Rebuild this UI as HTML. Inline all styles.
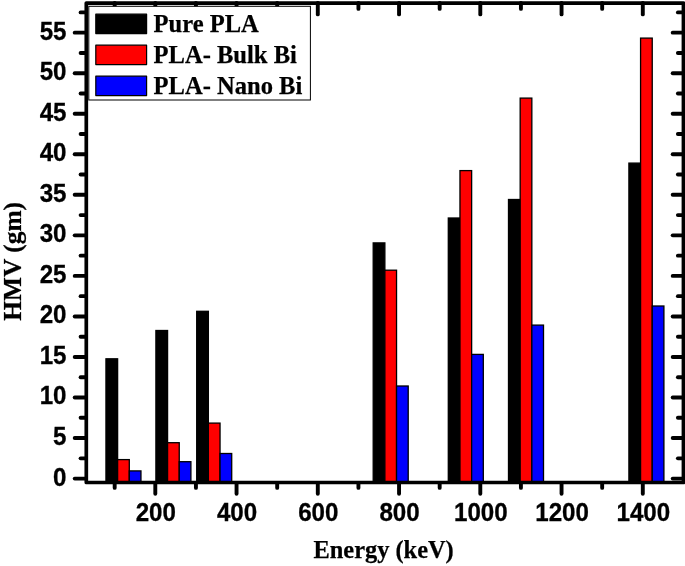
<!DOCTYPE html>
<html><head><meta charset="utf-8"><title>HMV vs Energy</title>
<style>html,body{margin:0;padding:0;background:#fff;}svg{display:block;will-change:transform;}</style>
</head><body>
<svg width="685" height="566" viewBox="0 0 685 566">
<rect x="0" y="0" width="685" height="566" fill="#fff"/>
<g stroke="#000" stroke-width="3.9" stroke-linecap="round">
<line x1="114.68" y1="483" x2="114.68" y2="487.9"/>
<line x1="114.68" y1="3" x2="114.68" y2="8.9"/>
<line x1="155.30" y1="483" x2="155.30" y2="493.8"/>
<line x1="155.30" y1="3" x2="155.30" y2="14.4"/>
<line x1="195.93" y1="483" x2="195.93" y2="487.9"/>
<line x1="195.93" y1="3" x2="195.93" y2="8.9"/>
<line x1="236.55" y1="483" x2="236.55" y2="493.8"/>
<line x1="236.55" y1="3" x2="236.55" y2="14.4"/>
<line x1="277.18" y1="483" x2="277.18" y2="487.9"/>
<line x1="277.18" y1="3" x2="277.18" y2="8.9"/>
<line x1="317.80" y1="483" x2="317.80" y2="493.8"/>
<line x1="317.80" y1="3" x2="317.80" y2="14.4"/>
<line x1="358.43" y1="483" x2="358.43" y2="487.9"/>
<line x1="358.43" y1="3" x2="358.43" y2="8.9"/>
<line x1="399.05" y1="483" x2="399.05" y2="493.8"/>
<line x1="399.05" y1="3" x2="399.05" y2="14.4"/>
<line x1="439.68" y1="483" x2="439.68" y2="487.9"/>
<line x1="439.68" y1="3" x2="439.68" y2="8.9"/>
<line x1="480.30" y1="483" x2="480.30" y2="493.8"/>
<line x1="480.30" y1="3" x2="480.30" y2="14.4"/>
<line x1="520.92" y1="483" x2="520.92" y2="487.9"/>
<line x1="520.92" y1="3" x2="520.92" y2="8.9"/>
<line x1="561.55" y1="483" x2="561.55" y2="493.8"/>
<line x1="561.55" y1="3" x2="561.55" y2="14.4"/>
<line x1="602.17" y1="483" x2="602.17" y2="487.9"/>
<line x1="602.17" y1="3" x2="602.17" y2="8.9"/>
<line x1="642.80" y1="483" x2="642.80" y2="493.8"/>
<line x1="642.80" y1="3" x2="642.80" y2="14.4"/>
<line x1="74.7" y1="478.60" x2="86" y2="478.60"/>
<line x1="672.7" y1="478.60" x2="683" y2="478.60"/>
<line x1="80.6" y1="458.33" x2="86" y2="458.33"/>
<line x1="677.9" y1="458.33" x2="683" y2="458.33"/>
<line x1="74.7" y1="438.06" x2="86" y2="438.06"/>
<line x1="672.7" y1="438.06" x2="683" y2="438.06"/>
<line x1="80.6" y1="417.79" x2="86" y2="417.79"/>
<line x1="677.9" y1="417.79" x2="683" y2="417.79"/>
<line x1="74.7" y1="397.52" x2="86" y2="397.52"/>
<line x1="672.7" y1="397.52" x2="683" y2="397.52"/>
<line x1="80.6" y1="377.25" x2="86" y2="377.25"/>
<line x1="677.9" y1="377.25" x2="683" y2="377.25"/>
<line x1="74.7" y1="356.98" x2="86" y2="356.98"/>
<line x1="672.7" y1="356.98" x2="683" y2="356.98"/>
<line x1="80.6" y1="336.71" x2="86" y2="336.71"/>
<line x1="677.9" y1="336.71" x2="683" y2="336.71"/>
<line x1="74.7" y1="316.44" x2="86" y2="316.44"/>
<line x1="672.7" y1="316.44" x2="683" y2="316.44"/>
<line x1="80.6" y1="296.17" x2="86" y2="296.17"/>
<line x1="677.9" y1="296.17" x2="683" y2="296.17"/>
<line x1="74.7" y1="275.90" x2="86" y2="275.90"/>
<line x1="672.7" y1="275.90" x2="683" y2="275.90"/>
<line x1="80.6" y1="255.63" x2="86" y2="255.63"/>
<line x1="677.9" y1="255.63" x2="683" y2="255.63"/>
<line x1="74.7" y1="235.36" x2="86" y2="235.36"/>
<line x1="672.7" y1="235.36" x2="683" y2="235.36"/>
<line x1="80.6" y1="215.09" x2="86" y2="215.09"/>
<line x1="677.9" y1="215.09" x2="683" y2="215.09"/>
<line x1="74.7" y1="194.82" x2="86" y2="194.82"/>
<line x1="672.7" y1="194.82" x2="683" y2="194.82"/>
<line x1="80.6" y1="174.55" x2="86" y2="174.55"/>
<line x1="677.9" y1="174.55" x2="683" y2="174.55"/>
<line x1="74.7" y1="154.28" x2="86" y2="154.28"/>
<line x1="672.7" y1="154.28" x2="683" y2="154.28"/>
<line x1="80.6" y1="134.01" x2="86" y2="134.01"/>
<line x1="677.9" y1="134.01" x2="683" y2="134.01"/>
<line x1="74.7" y1="113.74" x2="86" y2="113.74"/>
<line x1="672.7" y1="113.74" x2="683" y2="113.74"/>
<line x1="80.6" y1="93.47" x2="86" y2="93.47"/>
<line x1="677.9" y1="93.47" x2="683" y2="93.47"/>
<line x1="74.7" y1="73.20" x2="86" y2="73.20"/>
<line x1="672.7" y1="73.20" x2="683" y2="73.20"/>
<line x1="80.6" y1="52.93" x2="86" y2="52.93"/>
<line x1="677.9" y1="52.93" x2="683" y2="52.93"/>
<line x1="74.7" y1="32.66" x2="86" y2="32.66"/>
<line x1="672.7" y1="32.66" x2="683" y2="32.66"/>
<line x1="80.6" y1="12.39" x2="86" y2="12.39"/>
<line x1="677.9" y1="12.39" x2="683" y2="12.39"/>
</g>
<g stroke="#000" stroke-width="1.3">
<rect x="105.95" y="358.80" width="11.67" height="123.20" fill="#000"/>
<rect x="117.62" y="459.60" width="11.67" height="22.40" fill="#ff0000"/>
<rect x="129.29" y="470.90" width="11.67" height="11.10" fill="#0000ff"/>
<rect x="155.90" y="330.50" width="11.67" height="151.50" fill="#000"/>
<rect x="167.57" y="442.70" width="11.67" height="39.30" fill="#ff0000"/>
<rect x="179.24" y="461.70" width="11.67" height="20.30" fill="#0000ff"/>
<rect x="196.70" y="311.30" width="11.67" height="170.70" fill="#000"/>
<rect x="208.37" y="423.10" width="11.67" height="58.90" fill="#ff0000"/>
<rect x="220.04" y="453.50" width="11.67" height="28.50" fill="#0000ff"/>
<rect x="373.20" y="242.90" width="11.67" height="239.10" fill="#000"/>
<rect x="384.87" y="270.20" width="11.67" height="211.80" fill="#ff0000"/>
<rect x="396.54" y="386.00" width="11.67" height="96.00" fill="#0000ff"/>
<rect x="448.30" y="218.00" width="11.67" height="264.00" fill="#000"/>
<rect x="459.97" y="170.60" width="11.67" height="311.40" fill="#ff0000"/>
<rect x="471.64" y="354.40" width="11.67" height="127.60" fill="#0000ff"/>
<rect x="508.50" y="199.50" width="11.67" height="282.50" fill="#000"/>
<rect x="520.17" y="98.10" width="11.67" height="383.90" fill="#ff0000"/>
<rect x="531.84" y="325.10" width="11.67" height="156.90" fill="#0000ff"/>
<rect x="628.90" y="163.10" width="11.67" height="318.90" fill="#000"/>
<rect x="640.57" y="38.10" width="11.67" height="443.90" fill="#ff0000"/>
<rect x="652.24" y="306.00" width="11.67" height="176.00" fill="#0000ff"/>
</g>
<rect x="86.30" y="3.05" width="597.15" height="479.45" fill="none" stroke="#000" stroke-width="3.7" stroke-linejoin="round"/>
<rect x="88.8" y="6.3" width="221.6" height="93.7" fill="#fff" stroke="#000" stroke-width="1"/>
<rect x="95.8" y="14.200000000000001" width="50.8" height="19.4" fill="#000" stroke="#000" stroke-width="1.2" stroke-linejoin="round"/>
<text x="153.6" y="31.5" stroke="#000" stroke-width="0.25" font-family="'Liberation Serif', serif" font-weight="bold" font-size="24.55">Pure PLA</text>
<rect x="95.8" y="45.199999999999996" width="50.8" height="19.4" fill="#ff0000" stroke="#000" stroke-width="1.2" stroke-linejoin="round"/>
<text x="153.6" y="62.5" stroke="#000" stroke-width="0.25" font-family="'Liberation Serif', serif" font-weight="bold" font-size="24.55">PLA- Bulk Bi</text>
<rect x="95.8" y="76.2" width="50.8" height="19.4" fill="#0000ff" stroke="#000" stroke-width="1.2" stroke-linejoin="round"/>
<text x="153.6" y="93.5" stroke="#000" stroke-width="0.25" font-family="'Liberation Serif', serif" font-weight="bold" font-size="24.55">PLA- Nano Bi</text>
<g font-family="'Liberation Sans', sans-serif" font-weight="bold" font-size="24.5" fill="#000" stroke="#000" stroke-width="0.3">
<text transform="translate(66.5,485.50) scale(0.985,1.05)" text-anchor="end">0</text>
<text transform="translate(66.5,444.96) scale(0.985,1.05)" text-anchor="end">5</text>
<text transform="translate(66.5,404.42) scale(0.985,1.05)" text-anchor="end">10</text>
<text transform="translate(66.5,363.88) scale(0.985,1.05)" text-anchor="end">15</text>
<text transform="translate(66.5,323.34) scale(0.985,1.05)" text-anchor="end">20</text>
<text transform="translate(66.5,282.80) scale(0.985,1.05)" text-anchor="end">25</text>
<text transform="translate(66.5,242.26) scale(0.985,1.05)" text-anchor="end">30</text>
<text transform="translate(66.5,201.72) scale(0.985,1.05)" text-anchor="end">35</text>
<text transform="translate(66.5,161.18) scale(0.985,1.05)" text-anchor="end">40</text>
<text transform="translate(66.5,120.64) scale(0.985,1.05)" text-anchor="end">45</text>
<text transform="translate(66.5,80.10) scale(0.985,1.05)" text-anchor="end">50</text>
<text transform="translate(66.5,39.56) scale(0.985,1.05)" text-anchor="end">55</text>
<text transform="translate(155.80,521.2) scale(0.985,1.05)" text-anchor="middle">200</text>
<text transform="translate(237.05,521.2) scale(0.985,1.05)" text-anchor="middle">400</text>
<text transform="translate(318.30,521.2) scale(0.985,1.05)" text-anchor="middle">600</text>
<text transform="translate(399.55,521.2) scale(0.985,1.05)" text-anchor="middle">800</text>
<text transform="translate(480.80,521.2) scale(0.985,1.05)" text-anchor="middle">1000</text>
<text transform="translate(562.05,521.2) scale(0.985,1.05)" text-anchor="middle">1200</text>
<text transform="translate(643.30,521.2) scale(0.985,1.05)" text-anchor="middle">1400</text>
</g>
<text x="383.6" y="558.2" text-anchor="middle" font-family="'Liberation Serif', serif" font-weight="bold" font-size="24.4" stroke="#000" stroke-width="0.25">Energy (keV)</text>
<text transform="translate(20.8,261.3) rotate(-90) scale(1.045,1)" text-anchor="middle" font-family="'Liberation Serif', serif" font-weight="bold" font-size="24.3" stroke="#000" stroke-width="0.25">HMV (gm)</text>
</svg>
</body></html>
